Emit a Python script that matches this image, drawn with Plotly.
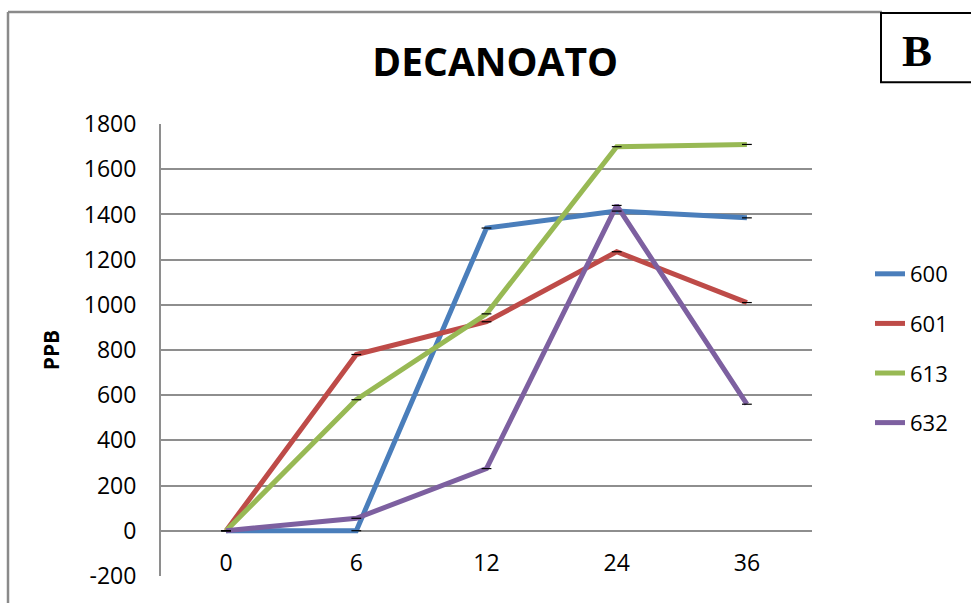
import plotly.graph_objects as go

# Sampling times (hours) and concentrations (ppb) of decanoate per sample
hours = ["0", "6", "12", "24", "36"]
s600 = [0, 0, 1340, 1415, 1385]
s601 = [0, 780, 925, 1235, 1010]
s613 = [0, 580, 960, 1700, 1710]
s632 = [0, 55, 275, 1440, 560]

series_names = ["600", "601", "613", "632"]
series_values = [s600, s601, s613, s632]
series_colors = ["#4A7EBB", "#BE4B48", "#98B954", "#7D60A0"]

y_ticks = list(range(-200, 1801, 200))
y_tick_labels = [str(v) for v in y_ticks]

W, H = 971, 603
L, R, T, B = 161, 159, 124, 23
pw, ph = W - L - R, H - T - B


def px(x):
    return (x - L) / pw


def py(y):
    return (H - B - y) / ph


fig = go.Figure()
for name, vals, col in zip(series_names, series_values, series_colors):
    fig.add_trace(go.Scatter(
        x=hours, y=vals, name=name, mode="lines",
        line=dict(color=col, width=5),
        legendgroup=name,
    ))
# small black dash markers at each data point
for name, vals in zip(series_names, series_values):
    fig.add_trace(go.Scatter(
        x=hours, y=vals, mode="markers", showlegend=False, hoverinfo="skip",
        marker=dict(symbol="line-ew", size=7, color="black",
                    line=dict(color="black", width=1.2)),
        legendgroup=name,
    ))

grid = "#8E8E8E"
tick_font = dict(family="Open Sans", size=23, color="black")
fig.update_layout(
    width=W, height=H,
    margin=dict(l=L, r=R, t=T, b=B),
    paper_bgcolor="white", plot_bgcolor="white",
    font=dict(family="Open Sans", size=22, color="black"),
    title=dict(text="<b>DECANOATO</b>", x=px(493), xanchor="center",
               y=1 - 62 / H, yanchor="middle",
               font=dict(family="Open Sans", size=39, color="black")),
    showlegend=True,
    legend=dict(x=px(870), xanchor="left", y=py(350.5), yanchor="middle",
                tracegroupgap=18,
                font=dict(family="Open Sans", size=22, color="black"),
                bgcolor="rgba(0,0,0,0)"),
    # category labels sit just above the bottom edge of the plot area
    xaxis=dict(type="category", range=[-0.5, 4.5], showgrid=False,
               anchor="free", position=py(551),
               showline=False, ticks="", tickfont=tick_font, fixedrange=True),
    yaxis=dict(range=[-200.5, 1800.5], tickvals=y_ticks, ticktext=y_tick_labels,
               showgrid=True, gridcolor=grid, gridwidth=2, zeroline=False,
               showline=True, linecolor=grid, linewidth=2,
               ticks="", ticklabelstandoff=18,
               tickfont=tick_font,
               title=dict(text="<b>PPB</b>", standoff=18,
                          font=dict(family="Open Sans", size=21, color="black")),
               fixedrange=True),
)

# Outer frame (left and top edges) and the panel letter box
fig.add_shape(type="line", xref="paper", yref="paper",
              x0=px(8), x1=px(8), y0=py(11), y1=py(H + 5),
              line=dict(color="#8A8A8A", width=2.5))
fig.add_shape(type="line", xref="paper", yref="paper",
              x0=px(8), x1=px(882), y0=py(11), y1=py(11),
              line=dict(color="#8A8A8A", width=2.5))
fig.add_shape(type="rect", xref="paper", yref="paper",
              x0=px(881), x1=px(W + 5), y0=py(82), y1=py(12),
              line=dict(color="black", width=2), fillcolor="white")
fig.add_annotation(xref="paper", yref="paper", x=px(917), y=py(50),
                   text="<b>B</b>", showarrow=False,
                   xanchor="center", yanchor="middle",
                   font=dict(family="Liberation Serif", size=45, color="black"))

fig.write_html("out.html")
